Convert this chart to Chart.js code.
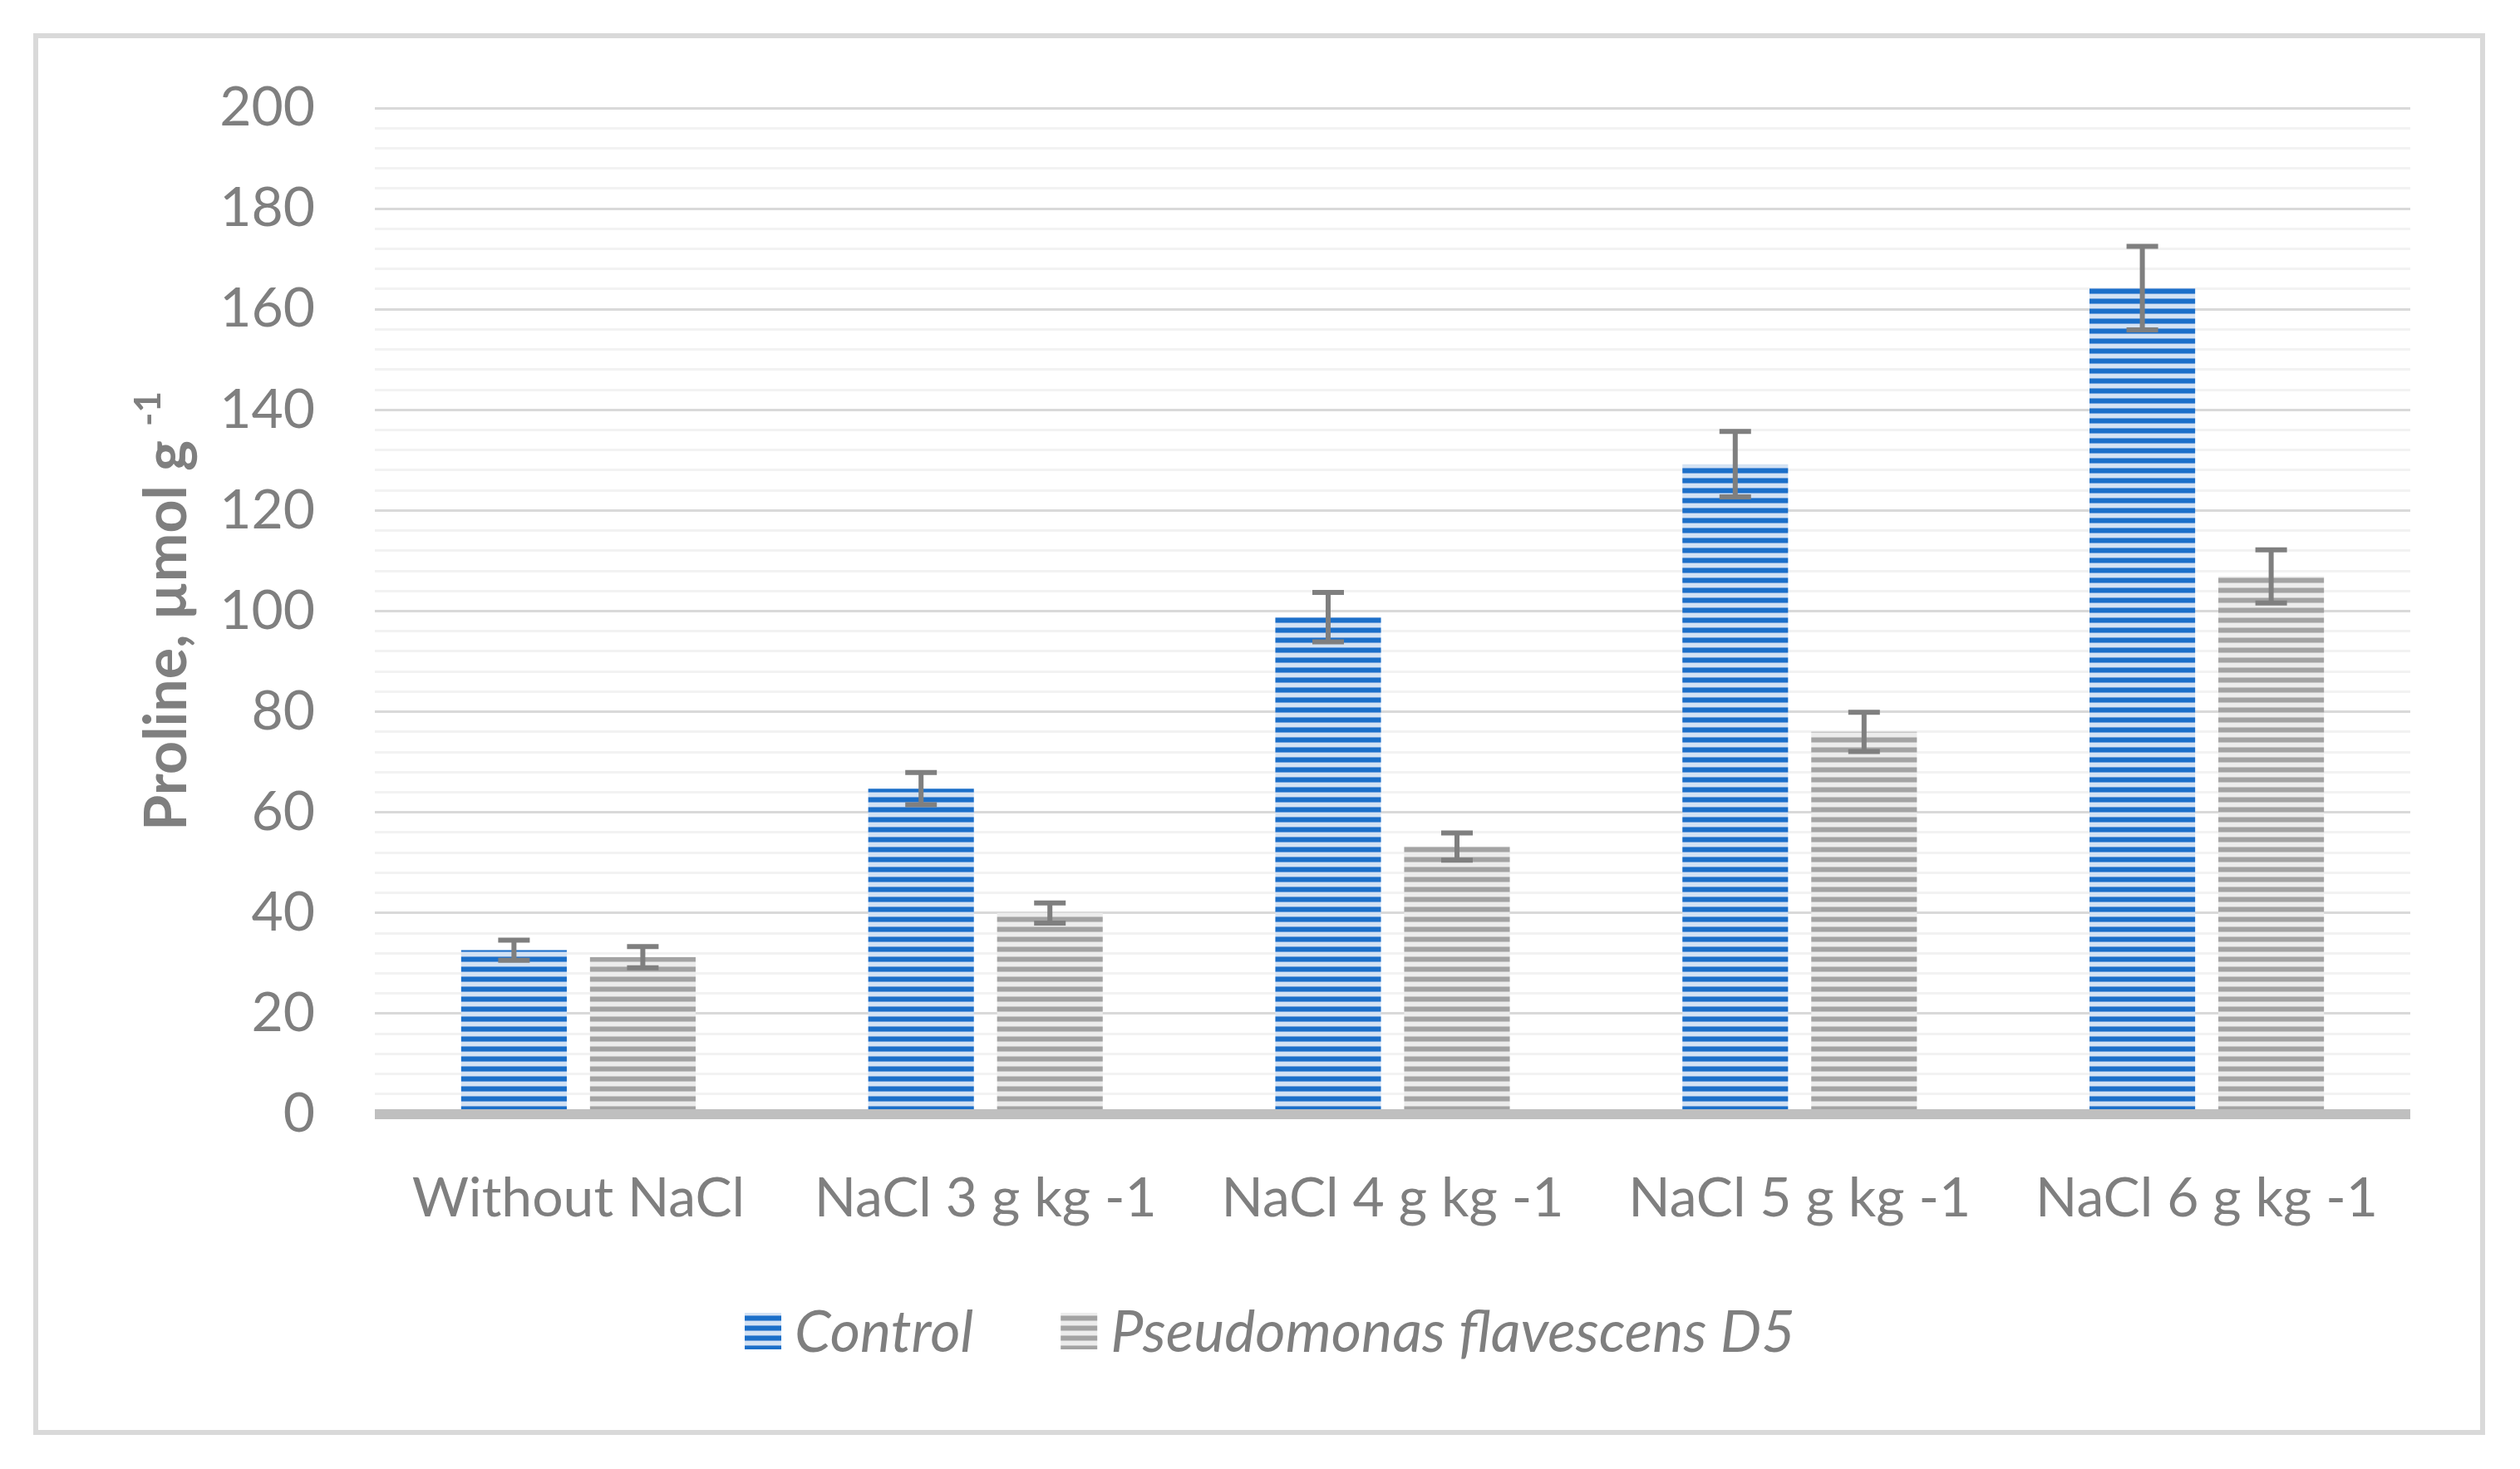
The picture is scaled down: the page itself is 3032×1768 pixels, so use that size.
<!DOCTYPE html>
<html>
<head>
<meta charset="utf-8">
<script src="https://cdn.jsdelivr.net/npm/chart.js@4.4.1/dist/chart.umd.min.js"></script>
<style>
    html, body { margin: 0; padding: 0; background: #fff; }
    #wrap { position: relative; width: 3032px; height: 1768px; }
    #frame { position: absolute; left: 40px; top: 40px; width: 2938px; height: 1675px; border: 6px solid #d9d9d9; pointer-events: none; }
</style>
</head>
<body>
<div id="wrap">
    <canvas id="prolineChart" width="3032" height="1768"></canvas>
    <div id="frame"></div>
</div>
<script>
// datos
const categories = ['Without NaCl', 'NaCl 3 g kg -1', 'NaCl 4 g kg -1', 'NaCl 5 g kg -1', 'NaCl 6 g kg -1'];
const controlValues = [32.6, 64.7, 98.8, 129.2, 164.2];
const controlErrors = [2.0, 3.2, 4.9, 6.5, 8.3];
const pseudoValues = [31.2, 40.0, 53.2, 76.0, 106.9];
const pseudoErrors = [2.1, 2.0, 2.7, 3.9, 5.3];
const yMax = 200;
const majorStep = 20;
const minorStep = 4;

const canvas = document.getElementById('prolineChart');
const ctx = canvas.getContext('2d');
const grey = '#7f7f7f';
const font = 'Lato';

// rayas horizontales tipo Excel
function stripes(dark, mid, light) {
    const c = document.createElement('canvas');
    c.width = 8;
    c.height = 12;
    const g = c.getContext('2d');
    g.fillStyle = light;
    g.fillRect(0, 0, 8, 12);
    g.fillStyle = dark;
    g.fillRect(0, 0, 8, 5);
    g.fillStyle = mid;
    g.fillRect(0, 5, 8, 1);
    g.fillRect(0, 11, 8, 1);
    return ctx.createPattern(c, 'repeat');
}

const bluePattern = stripes('#1b6fc9', '#6d9fdc', '#d3e2f4');
const greyPattern = stripes('#a3a3a3', '#c6c6c6', '#ececec');

const errorBars = {
    id: 'errorBars',
    afterDatasetsDraw(chart) {
        const c = chart.ctx;
        const y = chart.scales.y;
        c.save();
        c.strokeStyle = grey;
        c.lineWidth = 6;
        chart.data.datasets.forEach((ds, i) => {
            chart.getDatasetMeta(i).data.forEach((bar, j) => {
                const v = ds.data[j];
                const e = ds.errors[j];
                const top = y.getPixelForValue(v + e);
                const bot = y.getPixelForValue(v - e);
                c.beginPath();
                c.moveTo(bar.x, top);
                c.lineTo(bar.x, bot);
                c.moveTo(bar.x - 19, top);
                c.lineTo(bar.x + 19, top);
                c.moveTo(bar.x - 19, bot);
                c.lineTo(bar.x + 19, bot);
                c.stroke();
            });
        });
        // eje horizontal grueso
        const y0 = y.getPixelForValue(0);
        c.strokeStyle = '#bfbfbf';
        c.lineWidth = 12;
        c.beginPath();
        c.moveTo(chart.chartArea.left, y0);
        c.lineTo(chart.chartArea.right, y0);
        c.stroke();
        c.restore();
    }
};

const yTitle = {
    id: 'yTitle',
    afterDraw(chart) {
        const c = chart.ctx;
        const a = chart.chartArea;
        const main = 'Proline, µmol g ';
        const sup = '-1';
        c.save();
        c.translate(201, (a.top + a.bottom) / 2);
        c.rotate(-Math.PI / 2);
        c.fillStyle = grey;
        c.textBaseline = 'middle';
        c.font = 'bold 70px ' + font;
        const w1 = c.measureText(main).width;
        c.font = 'bold 44px ' + font;
        const w2 = c.measureText(sup).width;
        const x0 = -(w1 + w2) / 2;
        c.font = 'bold 70px ' + font;
        c.fillText(main, x0, 0);
        c.font = 'bold 44px ' + font;
        c.fillText(sup, x0 + w1, -22);
        c.restore();
    }
};

// leyenda propia, centrada bajo el gráfico
const legendBox = {
    id: 'legendBox',
    afterDraw(chart) {
        const c = chart.ctx;
        const box = 44, gapText = 16, gapItem = 105;
        const cx = 1528, cy = 1602;
        c.save();
        c.font = 'italic 70px ' + font;
        c.textBaseline = 'middle';
        const items = chart.data.datasets.map(ds => ({
            text: ds.label,
            fill: ds.backgroundColor,
            w: c.measureText(ds.label).width
        }));
        let total = 0;
        items.forEach((it, i) => { total += box + gapText + it.w + (i ? gapItem : 0); });
        let x = cx - total / 2;
        items.forEach(it => {
            c.fillStyle = it.fill;
            c.fillRect(x, cy - box / 2, box, box);
            c.fillStyle = grey;
            c.fillText(it.text, x + box + gapText, cy + 2);
            x += box + gapText + it.w + gapItem;
        });
        c.restore();
    }
};

new Chart(ctx, {
    type: 'bar',
    data: {
        labels: categories,
        datasets: [{
            label: 'Control',
            data: controlValues,
            errors: controlErrors,
            backgroundColor: bluePattern,
            borderWidth: 0,
            categoryPercentage: 0.633,
            barPercentage: 0.82
        }, {
            label: 'Pseudomonas flavescens D5',
            data: pseudoValues,
            errors: pseudoErrors,
            backgroundColor: greyPattern,
            borderWidth: 0,
            categoryPercentage: 0.633,
            barPercentage: 0.82
        }]
    },
    options: {
        responsive: false,
        devicePixelRatio: 1,
        animation: false,
        layout: { padding: { left: 172, right: 132, top: 130, bottom: 242 } },
        plugins: {
            legend: { display: false },
            tooltip: { enabled: false }
        },
        scales: {
            x: {
                grid: { display: false },
                border: { display: false },
                ticks: {
                    color: grey,
                    font: { family: font, size: 66 },
                    padding: 54,
                    maxRotation: 0,
                    autoSkip: false
                },
                afterFit(s) { s.height = 185; }
            },
            y: {
                min: 0,
                max: yMax,
                border: { display: false },
                grid: {
                    drawTicks: false,
                    lineWidth: 3,
                    color: c => c.tick.value % majorStep === 0 ? '#d9d9d9' : '#f2f2f2'
                },
                ticks: {
                    stepSize: minorStep,
                    maxTicksLimit: 100,
                    autoSkip: false,
                    padding: 72,
                    color: grey,
                    font: { family: font, size: 66 },
                    callback: v => v % majorStep === 0 ? v : ''
                },
                afterFit(s) { s.width = 279; }
            }
        }
    },
    plugins: [errorBars, yTitle, legendBox]
});
</script>
</body>
</html>
